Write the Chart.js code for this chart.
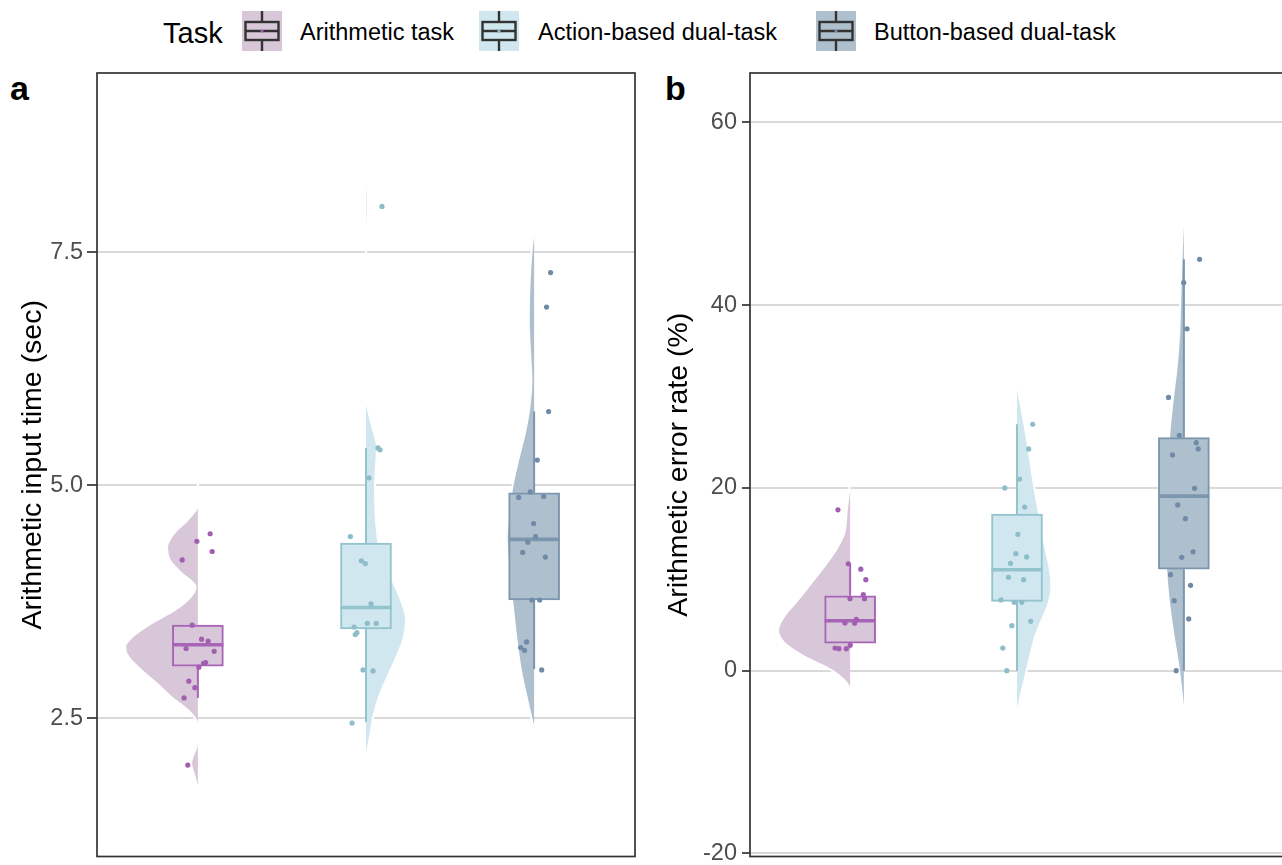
<!DOCTYPE html>
<html>
<head>
<meta charset="utf-8">
<title>Arithmetic task performance</title>
<script src="https://cdn.jsdelivr.net/npm/chart.js@4.4.0/dist/chart.umd.min.js"></script>
<style>
  html, body { margin: 0; padding: 0; background: #fff; }
  body { position: relative; width: 1282px; height: 865px; overflow: hidden;
         font-family: "Liberation Sans", Arial, Helvetica, sans-serif; color: #000; }
  .abs { position: absolute; }
  .legend-title { left: 163px; top: 13px; font-size: 29px; line-height: 40px; }
  .legend-text { top: 12px; font-size: 23.5px; line-height: 40px; white-space: nowrap; }
  .legend-key { top: 11px; width: 40px; height: 40px; }
  .tag { top: 71px; font-weight: bold; font-size: 34px; line-height: 34px; }
  #wrapA { left: 0; top: 60px; }
  #wrapB { left: 640px; top: 60px; }
  canvas { display: block; }
</style>
</head>
<body>
<div class="abs legend-title">Task</div>
<div id="legend"></div>
<div class="abs tag" style="left:10px">a</div>
<div class="abs tag" style="left:665px">b</div>
<div class="abs" id="wrapA"><canvas id="chartA" width="640" height="805"></canvas></div>
<div class="abs" id="wrapB"><canvas id="chartB" width="648" height="805"></canvas></div>
<script>
const categories = ['Arithmetic task', 'Action-based dual-task', 'Button-based dual-task'];
const catPos = [1, 2, 3];

// ---- panel a: arithmetic input time (sec) ----
const timeTicks = [2.5, 5.0, 7.5];
const timeTickLabels = ['2.5', '5.0', '7.5'];

const timeArith = [4.48, 4.40, 4.29, 4.20, 3.50, 3.35, 3.33, 3.25, 3.22, 3.10, 3.09, 3.05, 2.90, 2.83, 2.72, 2.00];
const timeArithJitter = [0.073, -0.006, 0.085, -0.093, -0.034, 0.022, 0.061, -0.070, 0.097, 0.046, 0.034, 0.006, -0.054, -0.018, -0.082, -0.060];
const timeAction = [7.99, 5.40, 5.38, 5.08, 4.45, 4.19, 4.16, 3.73, 3.48, 3.42, 3.40, 3.52, 3.52, 3.02, 3.01, 2.45];
const timeActionJitter = [0.095, 0.071, 0.083, 0.018, -0.093, -0.028, -0.004, 0.030, -0.071, -0.054, -0.064, 0.008, 0.061, -0.018, 0.042, -0.083];
const timeButton = [7.28, 6.91, 5.79, 5.27, 4.93, 4.87, 4.88, 4.59, 4.45, 4.39, 4.28, 4.23, 3.77, 3.77, 3.32, 3.26, 3.23, 3.02];
const timeButtonJitter = [0.098, 0.074, 0.086, 0.019, -0.023, -0.092, 0.057, -0.003, 0.009, -0.037, -0.068, 0.067, -0.013, 0.033, -0.045, -0.080, -0.057, 0.045];

const timeQ1 = [3.06, 3.46, 3.77];
const timeMedian = [3.29, 3.69, 4.42];
const timeQ3 = [3.50, 4.38, 4.92];
const timeWhiskerLo = [2.72, 2.46, 3.03];
const timeWhiskerHi = [3.50, 5.40, 5.79];

// half violins: levels from top to bottom, width in x-axis units
const timeArithLevels = [5.05, 4.78, 4.63, 4.49, 4.34, 4.20, 4.06, 3.91, 3.81, 3.66, 3.52, 3.38, 3.27, 3.16, 3.02, 2.88, 2.73, 2.59, 2.45, 2.30, 2.20, 2.02, 1.88, 1.75];
const timeArithDensity = [0, 0.002, 0.060, 0.139, 0.183, 0.168, 0.099, 0.014, 0.040, 0.139, 0.278, 0.387, 0.433, 0.413, 0.338, 0.248, 0.159, 0.060, 0.004, 0.001, 0.008, 0.040, 0.020, 0];
const timeActionLevels = [8.40, 8.33, 8.15, 8.00, 7.85, 7.67, 7.30, 6.50, 5.94, 5.61, 5.41, 5.00, 4.59, 4.18, 3.97, 3.77, 3.56, 3.36, 3.15, 2.95, 2.74, 2.54, 2.33, 2.08];
const timeActionDensity = [0, 0.002, 0.008, 0.010, 0.008, 0.002, 0, 0, 0.001, 0.040, 0.065, 0.054, 0.061, 0.099, 0.159, 0.208, 0.238, 0.224, 0.179, 0.129, 0.079, 0.046, 0.026, 0];
const timeButtonLevels = [7.76, 7.49, 7.13, 6.77, 6.42, 6.13, 5.84, 5.56, 5.27, 4.99, 4.63, 4.45, 4.09, 3.74, 3.38, 3.02, 2.66, 2.38];
const timeButtonDensity = [0, 0.016, 0.028, 0.032, 0.024, 0.016, 0.028, 0.055, 0.095, 0.129, 0.155, 0.163, 0.151, 0.129, 0.107, 0.079, 0.036, 0];

// ---- panel b: arithmetic error rate (%) ----
const errTicks = [-20, 0, 20, 40, 60];
const errTickLabels = ['-20', '0', '20', '40', '60'];

const errArith = [17.6, 11.7, 11.1, 9.96, 7.88, 8.32, 7.88, 5.22, 5.62, 5.19, 2.48, 2.41, 2.41, 2.81];
const errArithJitter = [-0.073, -0.011, 0.064, 0.094, -0.001, 0.079, 0.086, -0.031, 0.037, 0.027, -0.090, -0.067, -0.023, 0.001];
const errAction = [26.96, 24.26, 20.97, 19.99, 17.9, 14.92, 12.8, 12.44, 11.75, 10.22, 9.96, 7.74, 7.48, 7.48, 5.4, 4.92, 2.48, 0];
const errActionJitter = [0.094, 0.070, 0.015, -0.073, 0.046, 0.005, -0.007, 0.058, -0.039, -0.051, 0.040, -0.096, -0.017, 0.029, 0.082, -0.031, -0.085, -0.061];
const errButton = [45.0, 42.45, 37.4, 29.9, 25.75, 24.95, 24.26, 23.6, 19.95, 18.13, 16.63, 13.0, 12.4, 10.5, 9.34, 7.66, 5.66, 0];
const errButtonJitter = [0.094, -0.001, 0.019, -0.092, -0.027, 0.074, 0.086, -0.068, 0.064, -0.037, 0.009, 0.055, -0.013, -0.080, 0.040, -0.058, 0.029, -0.046];

const errQ1 = [3.0, 7.59, 11.1];
const errMedian = [5.47, 11.05, 19.1];
const errQ3 = [8.2, 17.14, 25.5];
const errWhiskerLo = [2.45, 0, 0];
const errWhiskerHi = [11.7, 26.96, 45.0];

const errArithLevels = [20.5, 17.6, 15.0, 13.2, 11.4, 9.56, 7.74, 5.91, 4.45, 3.0, 1.53, 0.08, -1.02, -1.93];
const errArithDensity = [0, 0.020, 0.036, 0.085, 0.155, 0.234, 0.313, 0.397, 0.432, 0.393, 0.274, 0.115, 0.036, 0];
const errActionLevels = [31.3, 27.4, 23.8, 20.1, 16.5, 13.6, 11.0, 9.19, 7.37, 5.55, 3.72, 1.9, 0.08, -2.11, -4.48];
const errActionDensity = [0, 0.040, 0.073, 0.103, 0.139, 0.168, 0.198, 0.206, 0.189, 0.149, 0.109, 0.083, 0.059, 0.030, 0];
const errButtonLevels = [50.6, 46.0, 40.6, 36.9, 33.3, 29.6, 26.0, 22.3, 18.7, 15.0, 11.4, 7.74, 4.09, 0.44, -4.66];
const errButtonDensity = [0, 0.012, 0.022, 0.028, 0.043, 0.067, 0.087, 0.099, 0.107, 0.111, 0.107, 0.091, 0.064, 0.032, 0];

// styles
const fillColors = ['#d7c7d8', '#d0e7f0', '#aebfcd'];
const lineColors = ['#a864b6', '#93c3cd', '#7c96ae'];
const pointColors = ['#a35eb1', '#8dbdc8', '#6f8ba7'];
const violinSide = [-1, 1, -1];
const FONT = '"Liberation Sans", Arial, Helvetica, sans-serif';

// legend (html)
const keyLeft = [242, 479, 816];
const textLeft = [300, 538, 874];
let legendHtml = '';
categories.forEach((name, i) => {
    legendHtml +=
        `<svg class="abs legend-key" style="left:${keyLeft[i]}px" viewBox="0 0 40 40">` +
        `<rect width="40" height="40" fill="${fillColors[i]}"/>` +
        `<g stroke="#333" stroke-width="2.4" fill="none">` +
        `<line x1="20" y1="0" x2="20" y2="11"/><line x1="20" y1="29" x2="20" y2="40"/>` +
        `<rect x="3.5" y="11" width="33" height="18"/><line x1="3.5" y1="20" x2="36.5" y2="20"/></g>` +
        `<circle cx="20" cy="20" r="1.6" fill="${pointColors[i]}"/></svg>` +
        `<div class="abs legend-text" style="left:${textLeft[i]}px">${name}</div>`;
});
document.getElementById('legend').innerHTML = legendHtml;

// whiskers + median on top of the box bars
function boxDetails(p) {
    return {
        id: 'boxDetails',
        afterDatasetDraw(chart, args) {
            if (args.meta.type !== 'bar') return;
            const ctx = chart.ctx;
            const y = chart.scales.y;
            ctx.save();
            args.meta.data.forEach((bar, i) => {
                ctx.strokeStyle = lineColors[i];
                ctx.lineCap = 'butt';
                ctx.lineWidth = 2;
                ctx.beginPath();
                ctx.moveTo(bar.x, y.getPixelForValue(p.q3[i]));
                ctx.lineTo(bar.x, y.getPixelForValue(p.hi[i]));
                ctx.moveTo(bar.x, y.getPixelForValue(p.q1[i]));
                ctx.lineTo(bar.x, y.getPixelForValue(p.lo[i]));
                ctx.stroke();
                ctx.lineWidth = 3.6;
                const my = y.getPixelForValue(p.median[i]);
                ctx.beginPath();
                ctx.moveTo(bar.x - bar.width / 2, my);
                ctx.lineTo(bar.x + bar.width / 2, my);
                ctx.stroke();
            });
            ctx.restore();
        }
    };
}

const panelFrame = {
    id: 'panelFrame',
    afterDraw(chart) {
        const {ctx, chartArea: a} = chart;
        ctx.save();
        ctx.strokeStyle = '#333';
        ctx.lineWidth = 1.7;
        ctx.strokeRect(a.left, a.top, a.right - a.left, a.bottom - a.top);
        ctx.restore();
    }
};

function makePanel(canvasId, p) {
    const datasets = [];
    for (let i = 0; i < 3; i++) {
        datasets.push({
            type: 'line',
            indexAxis: 'y',
            data: p.levels[i].map((v, k) => ({ x: catPos[i] + violinSide[i] * p.density[i][k], y: v })),
            fill: 'shape',
            backgroundColor: fillColors[i],
            borderColor: '#ffffff',
            borderWidth: 2,
            pointRadius: 0,
            cubicInterpolationMode: 'monotone',
            order: 3
        });
    }
    datasets.push({
        type: 'bar',
        data: catPos.map((x, i) => ({ x: x, y: [p.q1[i], p.q3[i]] })),
        backgroundColor: fillColors,
        borderColor: lineColors,
        borderWidth: 2,
        borderSkipped: false,
        barThickness: 51,
        order: 2
    });
    for (let i = 0; i < 3; i++) {
        datasets.push({
            type: 'scatter',
            data: p.values[i].map((v, k) => ({ x: catPos[i] + p.jitter[i][k], y: v })),
            pointRadius: 2.6,
            pointBorderWidth: 0,
            pointBackgroundColor: pointColors[i],
            order: 1
        });
    }

    return new Chart(document.getElementById(canvasId), {
        type: 'scatter',
        data: { datasets },
        options: {
            responsive: false,
            animation: false,
            events: [],
            devicePixelRatio: 1,
            layout: { padding: p.padding },
            plugins: { legend: { display: false }, tooltip: { enabled: false } },
            scales: {
                // offset must be off, otherwise the bar dataset pads the linear x axis
                x: { type: 'linear', min: 0.4, max: 3.6, offset: false, grid: { offset: false }, display: false },
                y: {
                    type: 'linear',
                    min: p.yMin,
                    max: p.yMax,
                    afterBuildTicks: s => { s.ticks = p.ticks.map(v => ({ value: v })); },
                    afterFit: s => {
                        s.width = p.axisWidth;
                        s.paddingTop = 0;
                        s.paddingBottom = 0;
                    },
                    ticks: {
                        callback: v => p.tickLabels[p.ticks.indexOf(v)],
                        color: '#4d4d4d',
                        font: { size: 23.5, family: FONT },
                        padding: p.tickPad
                    },
                    grid: { color: '#d9d9d9', lineWidth: 2, tickColor: '#333', tickLength: p.tickLen, tickWidth: 1.7 },
                    border: { display: false },
                    title: {
                        display: true,
                        text: p.title,
                        color: '#000',
                        font: { size: 28.5, family: FONT },
                        padding: { top: p.titlePad, bottom: 0 }
                    }
                }
            }
        },
        plugins: [boxDetails(p), panelFrame]
    });
}

makePanel('chartA', {
    values: [timeArith, timeAction, timeButton],
    jitter: [timeArithJitter, timeActionJitter, timeButtonJitter],
    levels: [timeArithLevels, timeActionLevels, timeButtonLevels],
    density: [timeArithDensity, timeActionDensity, timeButtonDensity],
    q1: timeQ1, median: timeMedian, q3: timeQ3, lo: timeWhiskerLo, hi: timeWhiskerHi,
    ticks: timeTicks, tickLabels: timeTickLabels,
    yMin: 1.02, yMax: 9.42,
    title: 'Arithmetic input time (sec)',
    padding: { left: 0, right: 5, top: 13, bottom: 8.5 },
    axisWidth: 97, tickLen: 10, tickPad: 4, titlePad: 16
});

makePanel('chartB', {
    values: [errArith, errAction, errButton],
    jitter: [errArithJitter, errActionJitter, errButtonJitter],
    levels: [errArithLevels, errActionLevels, errButtonLevels],
    density: [errArithDensity, errActionDensity, errButtonDensity],
    q1: errQ1, median: errMedian, q3: errQ3, lo: errWhiskerLo, hi: errWhiskerHi,
    ticks: errTicks, tickLabels: errTickLabels,
    yMin: -20.33, yMax: 65.39,
    title: 'Arithmetic error rate (%)',
    padding: { left: 0, right: 0, top: 13, bottom: 8.5 },
    axisWidth: 110, tickLen: 8, tickPad: 5, titlePad: 22
});
</script>
</body>
</html>
